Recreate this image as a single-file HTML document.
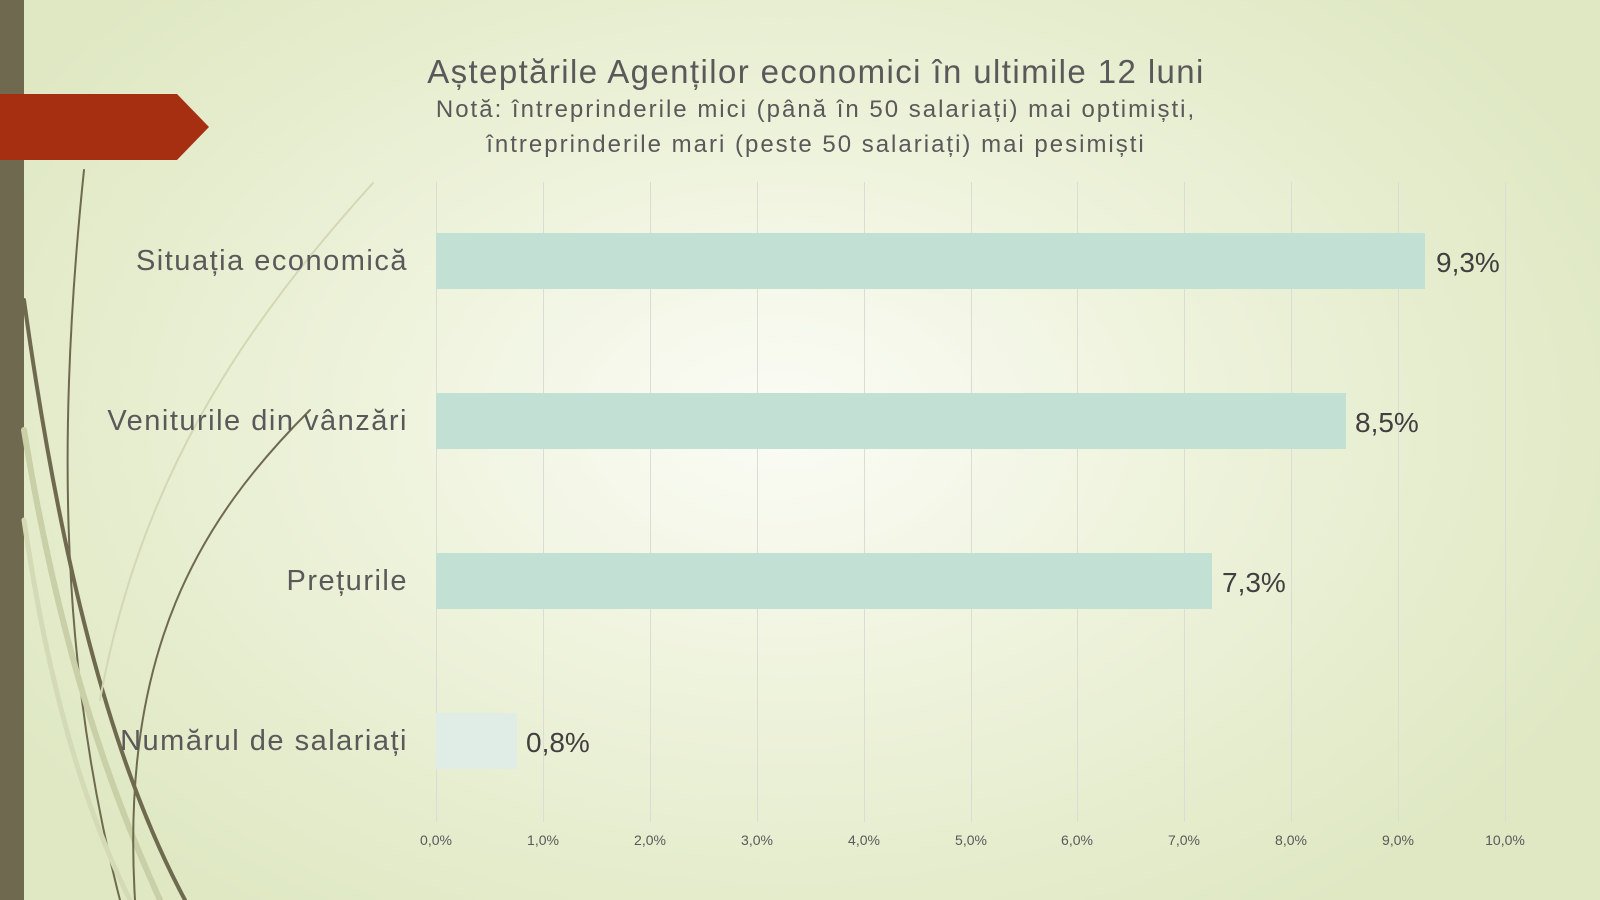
<!DOCTYPE html>
<html><head><meta charset="utf-8"><style>
html,body{margin:0;padding:0}
body{width:1600px;height:900px;overflow:hidden;position:relative;font-family:"Liberation Sans",sans-serif;color:#595959;
background:radial-gradient(ellipse 900px 600px at 780px 420px,#fbfcf6 0%,#eef3dc 45%,#dfe8c3 100%);}
.t{position:absolute;left:0;width:1632px;text-align:center;white-space:nowrap}
.cat{position:absolute;right:1192px;font-size:29px;white-space:nowrap;text-align:right;letter-spacing:1.5px}
.val{position:absolute;font-size:28px;color:#404040}
.tick{position:absolute;top:832px;font-size:14px;width:60px;margin-left:-30px;text-align:center}
.bar{position:absolute;left:436px;height:56px;background:#c3e0d4}
.g{position:absolute;top:182px;height:640px;width:1px;background:#dcdcd6}
</style></head><body>
<svg width="1600" height="900" style="position:absolute;left:0;top:0">
<rect x="0" y="0" width="24" height="900" fill="#6f6a4f"/>
<path d="M0 94 H177 L209 127 L177 160 H0 Z" fill="#a52f10"/>
<g fill="none" stroke-linecap="round">
<path d="M84 170 C60 400 55 650 120 900" stroke="#6f6a4f" stroke-width="2"/>
<path d="M24 300 C60 560 110 760 185 900" stroke="#6f6a4f" stroke-width="4"/>
<path d="M24 430 C60 650 110 790 160 900" stroke="#c9cfa6" stroke-width="6"/>
<path d="M24 520 C50 700 90 820 130 900" stroke="#d5dab6" stroke-width="5"/>
<path d="M310 410 C200 520 120 650 135 900" stroke="#6f6a4f" stroke-width="2"/>
<path d="M373 183 C240 330 140 480 100 700" stroke="#d3d8b4" stroke-width="2"/>
</g>
</svg>
<div class="t" style="top:53px;font-size:33px;letter-spacing:1.4px">Așteptările Agenților economici în ultimile 12 luni</div>
<div class="t" style="top:96px;font-size:24px;letter-spacing:2px">Notă: întreprinderile mici (până în 50 salariați) mai optimiști,</div>
<div class="t" style="top:131px;font-size:24px;letter-spacing:2px">întreprinderile mari (peste 50 salariați) mai pesimiști</div>
<div class="g" style="left:436px"></div><div class="g" style="left:543px"></div><div class="g" style="left:650px"></div>
<div class="g" style="left:757px"></div><div class="g" style="left:864px"></div><div class="g" style="left:971px"></div>
<div class="g" style="left:1077px"></div><div class="g" style="left:1184px"></div><div class="g" style="left:1291px"></div>
<div class="g" style="left:1398px"></div><div class="g" style="left:1505px"></div>
<div class="bar" style="top:233px;width:989px"></div>
<div class="bar" style="top:393px;width:910px"></div>
<div class="bar" style="top:553px;width:776px"></div>
<div class="bar" style="top:713px;width:81px;background:#e0ede6"></div>
<div class="cat" style="top:245px">Situația economică</div>
<div class="cat" style="top:405px">Veniturile din vânzări</div>
<div class="cat" style="top:565px">Prețurile</div>
<div class="cat" style="top:725px">Numărul de salariați</div>
<div class="val" style="left:1436px;top:247px">9,3%</div>
<div class="val" style="left:1355px;top:407px">8,5%</div>
<div class="val" style="left:1222px;top:567px">7,3%</div>
<div class="val" style="left:526px;top:727px">0,8%</div>
<div class="tick" style="left:436px">0,0%</div><div class="tick" style="left:543px">1,0%</div>
<div class="tick" style="left:650px">2,0%</div><div class="tick" style="left:757px">3,0%</div>
<div class="tick" style="left:864px">4,0%</div><div class="tick" style="left:971px">5,0%</div>
<div class="tick" style="left:1077px">6,0%</div><div class="tick" style="left:1184px">7,0%</div>
<div class="tick" style="left:1291px">8,0%</div><div class="tick" style="left:1398px">9,0%</div>
<div class="tick" style="left:1505px">10,0%</div>
</body></html>
